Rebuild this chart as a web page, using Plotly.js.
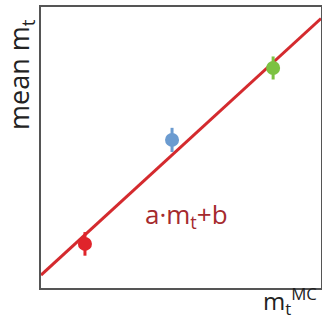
<!DOCTYPE html>
<html><head><meta charset="utf-8">
<script src="https://cdn.plot.ly/plotly-3.0.1.min.js"></script>
<style>html,body{margin:0;padding:0;background:#fff}#c{width:322px;height:323px}</style>
</head><body><div id="c"></div>
<script>
const pointX = [1.57, 4.68, 8.29];
const pointY = [1.57, 5.27, 7.83];
const pointErr = [0.42, 0.43, 0.41];
const pointColors = ['#e0242b', '#6b9bd0', '#7cc242'];
const fitX = [0, 10];
const fitY = [0.46, 9.59];
const fitLabel = 'a·m<sub>t</sub>+b';

const traces = [{
  x: fitX, y: fitY, mode: 'lines', type: 'scatter',
  line: {color: '#d42a2e', width: 3}, hoverinfo: 'skip', cliponaxis: true
}];
for (let i = 0; i < pointX.length; i++) {
  traces.push({
    x: [pointX[i]], y: [pointY[i]], mode: 'markers', type: 'scatter',
    marker: {color: pointColors[i], size: 14},
    error_y: {type: 'data', array: [pointErr[i]], color: pointColors[i], thickness: 3, width: 0}
  });
}
const L = 41, R = 1, T = 7, B = 35;
const pw = 322 - L - R, ph = 323 - T - B;
const px = v => (v - L) / pw;
const py = v => (323 - B - v) / ph;
const layout = {
  width: 322, height: 323, showlegend: false,
  margin: {l: L, r: R, t: T, b: B},
  paper_bgcolor: '#fff', plot_bgcolor: '#fff',
  xaxis: {range: [0, 10], showgrid: false, zeroline: false, showticklabels: false, ticks: '',
          showline: true, mirror: true, linecolor: '#555', linewidth: 2},
  yaxis: {range: [0, 10], showgrid: false, zeroline: false, showticklabels: false, ticks: '',
          showline: true, mirror: true, linecolor: '#555', linewidth: 2},
  annotations: [
    {text: fitLabel, x: 5.2, y: 2.6, xref: 'x', yref: 'y', showarrow: false,
     font: {family: 'Open Sans', size: 26, color: '#a52a2e'}},
    {text: 'mean m<sub>t</sub>', x: px(20), y: py(75), xref: 'paper', yref: 'paper', showarrow: false,
     xanchor: 'center', yanchor: 'middle',
     textangle: -90, font: {family: 'Open Sans', size: 27, color: '#222'}},
    {text: 'm<sub>t</sub><sup>MC</sup>', x: px(319), y: py(322), xref: 'paper', yref: 'paper',
     xanchor: 'right', yanchor: 'bottom', showarrow: false,
     font: {family: 'Open Sans', size: 24, color: '#222'}}
  ]
};
Plotly.newPlot('c', traces, layout, {displayModeBar: false, staticPlot: true});
</script></body></html>
